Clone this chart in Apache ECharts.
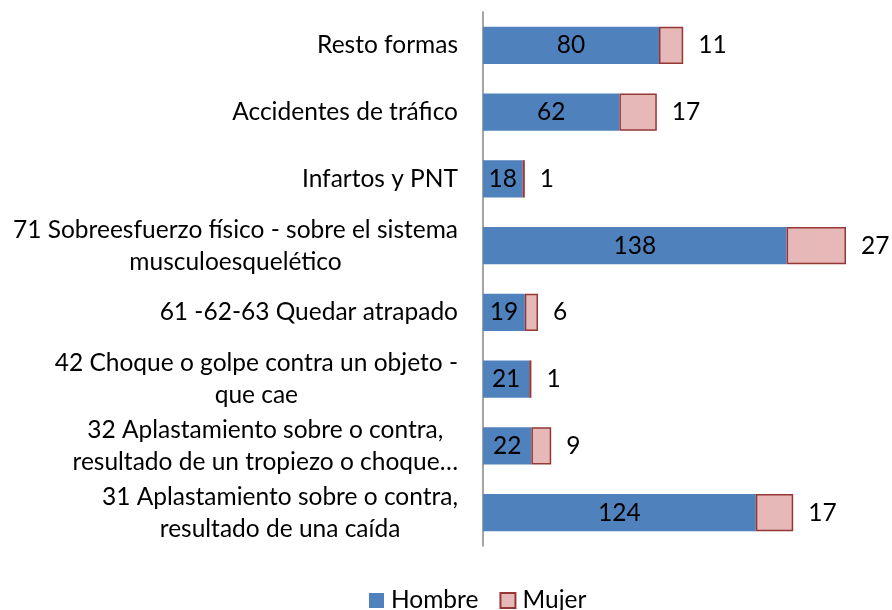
<!DOCTYPE html>
<html>
<head>
<meta charset="utf-8">
<script src="https://cdn.jsdelivr.net/npm/echarts@6/dist/echarts.min.js"></script>
<style>
  html, body { margin: 0; padding: 0; background: #fff; }
  #chart { width: 892px; height: 610px; }
</style>
</head>
<body>
<div id="chart"></div>
<script>
const categories = [
  '31 Aplastamiento sobre o contra,\nresultado de una caída',
  '32 Aplastamiento sobre o contra,\nresultado de un tropiezo o choque…',
  '42 Choque o golpe contra un objeto -\nque cae',
  '61 -62-63 Quedar atrapado',
  '71 Sobreesfuerzo físico - sobre el sistema\nmusculoesquelético',
  'Infartos y PNT',
  'Accidentes de tráfico',
  'Resto formas'
]
const hombre = [124, 22, 21, 19, 138, 18, 62, 80]
const mujer = [17, 9, 1, 6, 27, 1, 17, 11]

const font = 'Lato'
const fontSize = 24.5

const chart = echarts.init(document.getElementById('chart'))
chart.setOption({
  animation: false,
  grid: { left: 483, right: 13, top: 12, bottom: 64, containLabel: false },
  legend: {
    top: 583,
    left: 364,
    itemWidth: 15,
    itemHeight: 15,
    itemGap: 21,
    icon: 'rect',
    textStyle: { fontFamily: font, fontSize: fontSize, color: '#000', padding: [0, 0, 0, 2] },
    data: ['Hombre', 'Mujer']
  },
  xAxis: {
    type: 'value',
    min: 0,
    max: 180,
    show: false
  },
  yAxis: {
    type: 'category',
    data: categories,
    axisLine: { lineStyle: { color: '#868686', width: 1.5 } },
    axisTick: { show: false },
    axisLabel: {
      margin: 25,
      align: 'right',
      formatter: v => v.split('\n').map(l => '{c|' + l + '}').join('\n'),
      rich: {
        c: { align: 'center', fontFamily: font, fontSize: fontSize, lineHeight: 32, color: '#000' }
      }
    }
  },
  series: [
    {
      name: 'Hombre',
      type: 'bar',
      stack: 'total',
      data: hombre,
      barCategoryGap: '44%',
      itemStyle: { color: '#4F81BD' },
      label: {
        show: true,
        position: 'inside',
        color: '#000',
        fontFamily: font,
        fontSize: fontSize
      }
    },
    {
      name: 'Mujer',
      type: 'bar',
      stack: 'total',
      data: mujer,
      itemStyle: { color: '#E6B9B8', borderColor: '#953735', borderWidth: 1.5 },
      label: {
        show: true,
        position: 'right',
        distance: 15,
        color: '#000',
        fontFamily: font,
        fontSize: fontSize
      }
    }
  ]
})
</script>
</body>
</html>
